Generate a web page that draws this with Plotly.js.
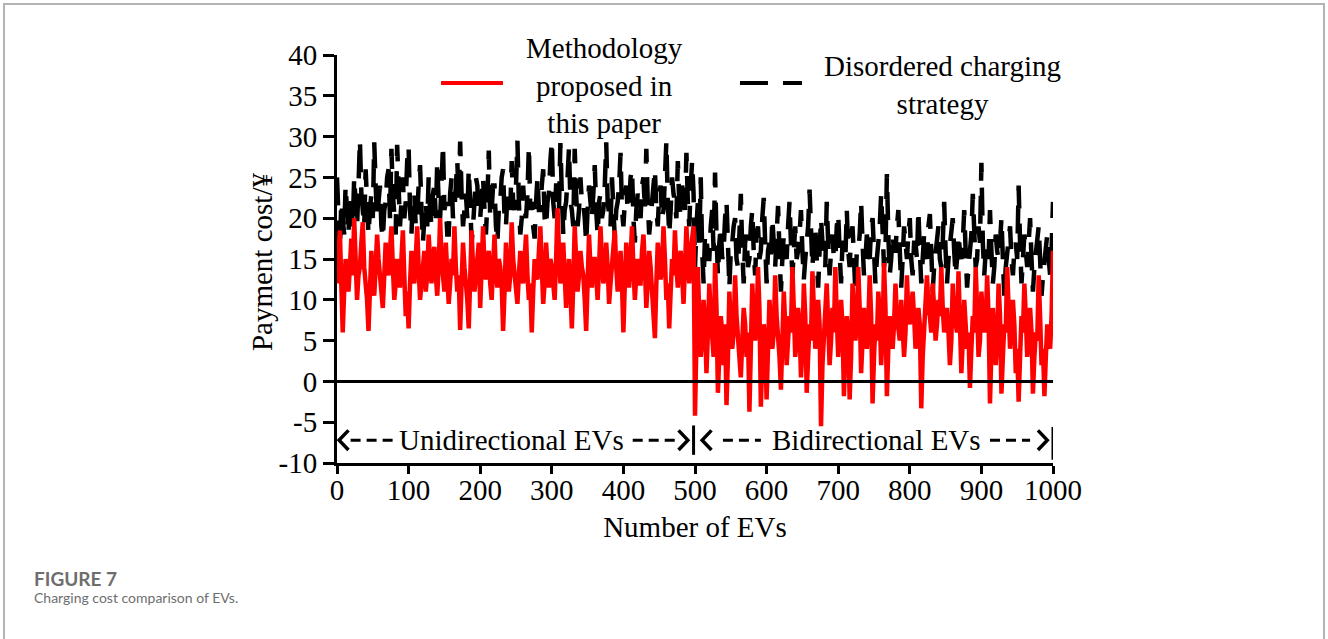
<!DOCTYPE html>
<html>
<head>
<meta charset="utf-8">
<script src="https://cdn.plot.ly/plotly-3.0.1.min.js"></script>
<style>
  html, body { margin: 0; padding: 0; background: #fff; }
  #wrap { position: relative; width: 1328px; height: 639px; overflow: hidden; }
  #frame { position: absolute; left: 3px; top: 3px; width: 1322px; height: 700px;
           border: 2px solid #b4b4b4; box-sizing: border-box; pointer-events: none; }
  #chart { position: absolute; left: 0; top: 0; width: 1328px; height: 639px; }
</style>
</head>
<body>
<div id="wrap">
  <div id="chart"></div>
  <div id="frame"></div>
</div>
<script>
// EV number of first plotted sample and spacing between samples
const evStart = 0;
const evStep = 2;

// Disordered charging strategy (black dashed), EV 0..1000 (one row = 100 EVs)
const disorderedCost = [
  25,20, 16,22, 20,18, 24,21, 18,23, 22,19, 25,22, 19,24, 29.6,23, 21,19, 26,22, 18,21, 23,20, 29.3,24, 20,22, 24,19, 17.5,21, 22,25, 26,20, 28.5,23, 21,18, 29,24, 19,22, 25,20, 22,27,
  28.8,21, 18,23, 23,19, 20,24, 26.5,21, 17,20, 22,19, 25,21, 19,23, 24,20, 27,22, 20,24, 29,21, 22,18, 18,23, 25,20, 21,24, 27,22, 29.4,23, 19,21, 23,20, 26,22, 17,19, 22,25, 24,20,
  20,23, 25,21, 18,22, 28.3,20, 21,24, 24,19, 17,21, 22,25, 26,20, 19,23, 23,21, 27,22, 21,24, 29.5,22, 18,20, 24,21, 20,23, 28.8,21, 22,19, 17.5,22, 25,21, 21,24, 26,20, 19,22, 23,27,
  29.5,22, 20,24, 24,21, 29.2,23, 18,21, 22,25, 28.6,22, 21,19, 28.5,23, 19,21, 25,22, 22,20, 17,21, 24,22, 20,23, 26.5,21, 18,22, 23,20, 21,24, 29.3,22, 20,19, 25,22, 17.5,21, 22,24, 28,21,
  19,22, 24,21, 21,25, 26,20, 17,21, 23,22, 20,24, 25,21, 28.5,22, 18,20, 22,24, 26,21, 19,23, 24,20, 21,25, 29.4,22, 18,21, 25,23, 22,20, 27,22, 20,24, 23,21, 28,22, 19,24, 27,23,
  14,19, 22,17, 25,16, 12,18, 18,15, 15,19, 21,16, 25.6,18, 13,17, 19,15, 16,20, 22,17, 11.5,16, 17,19, 20,15, 14,18, 23,16, 12,17, 18,14, 15,19, 21,16, 13,18, 19,15, 16,20, 22.5,17,
  12,16, 17,15, 20,17, 14,18, 21.5,16, 11,15, 18,16, 15,19, 22,17, 13,16, 19,15, 16,18, 21,16, 12.5,15, 17,19, 23.5,16, 14,17, 19,15, 11.5,16, 20,17, 16,14, 22,17, 13,16, 18,15, 15,19,
  20.5,16, 12,17, 17,15, 21,16, 14,18, 19,15, 11,16, 16,18, 22,17, 13,15, 18,16, 15,19, 20,16, 12,15, 17,19, 23,17, 14,16, 25.4,18, 13,15, 18,16, 16,19, 21,16, 11.5,15, 19,17, 15,18,
  20,15, 13,17, 17,15, 21,16, 12,15, 18,16, 15,19, 20.5,16, 11,14, 16,18, 19,15, 14,17, 22,16, 12,15, 17,19, 20,16, 13,15, 18,16, 15,17, 21,16, 11.5,14, 16,18, 23,16, 14,15, 19,17,
  26.8,17, 13,16, 17,15, 21,16, 12,14, 18,16, 15,17, 20,15, 10.5,14, 16,18, 19,15, 13,16, 17,15, 24,17, 12,15, 18,16, 14,17, 20,15, 11,14, 16,18, 19,15, 10.5,13, 15,17, 18,15, 13,16,
  22
];

// Methodology proposed in this paper (red), EV 0..1000 (one row = 100 EVs)
const proposedCost = [
  12,15, 18.5,12, 6,11, 15,13, 11,14, 17.5,13, 20,15, 10,13, 14,17, 19.5,14, 12,10, 6.2,12, 16,13, 10.5,14, 18,15, 13,11, 9,13, 17,14, 13,16, 19,14, 10,12, 15,13, 11.5,15, 18.5,13, 8,11,
  6.5,12, 16,13, 12,15, 19,14, 10,12, 14,16, 11,13, 18,14, 12,15, 16.5,13, 10.5,14, 20,15, 12,11, 17,14, 9.5,12, 15,13, 19,14, 11,13, 6.3,12, 17,14, 12.5,10, 6.5,12, 18.5,14, 11,13, 15,17,
  9,13, 19,14, 12.5,15, 16,12, 10,14, 18,13, 11.5,15, 14,12, 6.2,11, 17,14, 11,13, 19.5,15, 13,11, 9.5,13, 16,14, 12,15, 18,13, 10,12, 6,11, 15,13, 12.5,16, 19,14, 9.5,12, 17,14, 11.5,15,
  14,12, 10,15, 21.2,16, 12,14, 17,13, 9,12, 15,11, 6.5,12, 19,15, 11,13, 16,14, 13,10, 6.2,12, 18,14, 11.5,15, 15,13, 10,14, 19,15, 12,13, 17,14, 9.5,12, 14,16, 18.5,14, 11,13, 16,12,
  6,12, 17,14, 11.5,15, 19,14, 10,13, 15,12, 12,16, 18,14, 9,12, 16,14, 11,10, 5.3,12, 17,15, 12.5,14, 19,15, 10,12, 6.5,11, 15,13, 18.5,14, 11.5,15, 16,13, 9.5,14, 19,15, 12,16, 18,19,
  -4.2,6, 14,8, 3,5, 10,7, 1,6, 12,8, 5,3, 14.5,9, -1.4,4, 8,6, 2,7, -2.9,3, 11,7, 4,6, 13,8, 6,4, 0.5,5, 9,7, 3,6, -3.7,4, 12,8, 5,7, 14,9, -3.1,3, 7,5,
  -2.2,4, 10,7, 4,6, 13,8, 6,3, -1,5, 11,7, 2,5, 8,6, 14,9, 3,5, 9,7, 0.5,4, 12,8, -1.4,3, 7,5, 13.5,9, 4,6, 10,7, -5.5,2, 6,8, 12,7, 2,5, 9,6, 14,8,
  3,6, 10,7, -1.8,4, 8,6, -2.2,3, 12,8, 5,7, 14,9, 1,5, 9,6, 4,7, 13,8, -2.7,3, 7,5, 11,8, 2,6, 14.5,9, -1.8,4, 8,6, 4,7, 12,8, 6,5, 10,7, 3,6, 13,8,
  7,9, 11,8, 4,6, 9,7, -3.3,3, 6,8, 13,9, 8,6, 12,9, 5,7, 10,8, 14,9, 6,7, 9,6, 2,5, 12,8, 7,6, 13.5,9, 1,5, 10,7, 4,6, -0.8,4, 8,6, 14,9, 3,5,
  11,8, 6,7, 13,8, -2.7,4, 9,6, 2,5, 12,8, -1.5,3, 7,6, 14,9, 4,6, 10,7, 1,4, -2.5,3, 8,6, 12,8, 3,5, 9,6, -1.5,3, 6,5, 13,8, 2,4, -1.8,3, 7,5, 4,8,
  16
];

const xTickVals = [0, 100, 200, 300, 400, 500, 600, 700, 800, 900, 1000];
const xTickText = ['0', '100', '200', '300', '400', '500', '600', '700', '800', '900', '1000'];
const yTickVals = [-10, -5, 0, 5, 10, 15, 20, 25, 30, 35, 40];
const yTickText = ['-10', '-5', '0', '5', '10', '15', '20', '25', '30', '35', '40'];

const seriesNames = ['Disordered charging<br>strategy', 'Methodology<br>proposed in<br>this paper'];
const xTitle = 'Number of EVs';
const yTitle = 'Payment cost/¥';
const regionLabels = ['Unidirectional EVs', 'Bidirectional EVs'];
const captionHead = 'FIGURE 7';
const captionText = 'Charging cost comparison of EVs.';

const serif = 'Liberation Serif, Times New Roman, serif';
const F = 29;
const blackDash = '28px,15px';

const traces = [
  { y: disorderedCost, x0: evStart, dx: evStep, type: 'scatter', mode: 'lines',
    name: seriesNames[0], line: { color: '#000', width: 4.5, dash: blackDash }, hoverinfo: 'skip' },
  { y: proposedCost, x0: evStart, dx: evStep, type: 'scatter', mode: 'lines',
    name: seriesNames[1], line: { color: '#ff0000', width: 4.5 }, hoverinfo: 'skip' }
];

function seg(x0, x1, y, dash) {
  return { type: 'line', xref: 'x', yref: 'y', x0: x0, x1: x1, y0: y, y1: y, layer: 'above',
           line: { color: '#000', width: 3, dash: dash || 'solid' } };
}
function vbar(x, y0, y1) {
  return { type: 'line', xref: 'x', yref: 'y', x0: x, x1: x, y0: y0, y1: y1, layer: 'above',
           line: { color: '#000', width: 3 } };
}
function chev(tip, arm, y, h) {
  return { type: 'path', xref: 'x', yref: 'y', layer: 'above',
           path: 'M ' + arm + ',' + (y + h) + ' L ' + tip + ',' + y + ' L ' + arm + ',' + (y - h),
           line: { color: '#000', width: 3.5 } };
}
const ay = -7.2;
const shapes = [
  { type: 'line', xref: 'x', yref: 'y', x0: 0, x1: 1000, y0: 0, y1: 0, layer: 'above',
    line: { color: '#000', width: 3 } },
  chev(3, 16, ay, 1.2), seg(19, 78, ay, '10px,6px'), seg(413, 473, ay, '10px,6px'), chev(490, 477, ay, 1.2),
  vbar(498, -5.4, -9),
  chev(510, 523, ay, 1.2), seg(539, 592, ay, '10px,6px'), seg(912, 968, ay, '10px,6px'), chev(992, 979, ay, 1.2),
  vbar(1000, -5.6, -9.6),
  { type: 'line', xref: 'paper', yref: 'paper', x0: 0.1453, x1: 0.2318, y0: 0.9314, y1: 0.9314,
    line: { color: '#ff0000', width: 4 } },
  { type: 'line', xref: 'paper', yref: 'paper', x0: 0.5628, x1: 0.6494, y0: 0.9314, y1: 0.9314,
    line: { color: '#000', width: 4, dash: blackDash } }
];

const annotations = [
  { xref: 'paper', yref: 'paper', x: 0.3743, y: 0.925, text: seriesNames[1], showarrow: false,
    align: 'center', xanchor: 'center', yanchor: 'middle', font: { family: serif, size: F, color: '#000' } },
  { xref: 'paper', yref: 'paper', x: 0.845, y: 0.927, text: seriesNames[0], showarrow: false,
    align: 'center', xanchor: 'center', yanchor: 'middle', font: { family: serif, size: F, color: '#000' } },
  { xref: 'x', yref: 'y', x: 244, y: ay, text: regionLabels[0], showarrow: false,
    xanchor: 'center', yanchor: 'middle', font: { family: serif, size: F, color: '#000' } },
  { xref: 'x', yref: 'y', x: 753, y: ay, text: regionLabels[1], showarrow: false,
    xanchor: 'center', yanchor: 'middle', font: { family: serif, size: F, color: '#000' } },
  { xref: 'paper', yref: 'paper', x: -0.1047, y: 0.4926, text: yTitle, showarrow: false, textangle: -90,
    xanchor: 'center', yanchor: 'middle', font: { family: serif, size: F, color: '#000' } },
  { xref: 'paper', yref: 'paper', x: -0.4260, y: -0.283, text: captionHead, showarrow: false,
    xanchor: 'left', yanchor: 'middle', font: { family: 'Lato, Open Sans, sans-serif', size: 19, color: '#6e6e6e', weight: 700 } },
  { xref: 'paper', yref: 'paper', x: -0.4260, y: -0.330, text: captionText, showarrow: false,
    xanchor: 'left', yanchor: 'middle', font: { family: 'Lato, Open Sans, sans-serif', size: 14, color: '#6e6e6e' } }
];

const layout = {
  width: 1328, height: 639,
  margin: { l: 337, r: 275, t: 55, b: 176, pad: 0 },
  paper_bgcolor: '#fff', plot_bgcolor: '#fff',
  showlegend: false,
  font: { family: serif, size: F, color: '#000' },
  xaxis: {
    range: [0, 1000], tickmode: 'array', tickvals: xTickVals, ticktext: xTickText,
    showline: true, linecolor: '#000', linewidth: 3, ticks: 'outside', ticklen: 8,
    tickwidth: 3, tickcolor: '#000', showgrid: false, zeroline: false, automargin: false,
    ticklabelstandoff: -9,
    tickfont: { family: serif, size: F, color: '#000' },
    title: { text: xTitle, font: { family: serif, size: F, color: '#000' }, standoff: 12 }
  },
  yaxis: {
    range: [-10, 40], tickmode: 'array', tickvals: yTickVals, ticktext: yTickText,
    showline: true, linecolor: '#000', linewidth: 3, ticks: 'outside', ticklen: 11,
    tickwidth: 3, tickcolor: '#000', showgrid: false, zeroline: false, automargin: false,
    tickfont: { family: serif, size: F, color: '#000' }
  },
  shapes: shapes,
  annotations: annotations
};

Plotly.newPlot('chart', traces, layout, { staticPlot: true, displayModeBar: false });
</script>
</body>
</html>
